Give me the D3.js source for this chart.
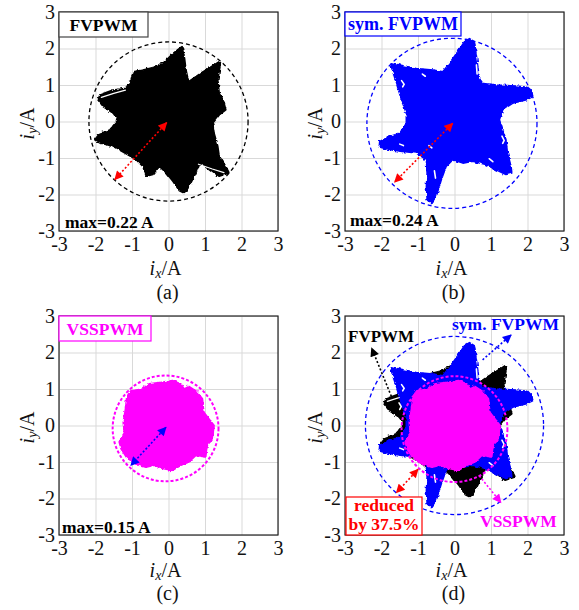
<!DOCTYPE html>
<html><head><meta charset="utf-8">
<script src="https://cdn.jsdelivr.net/npm/d3@7"></script>
<style>
body{margin:0;background:#fff;}
svg text{font-family:"Liberation Serif","Times New Roman",Tinos,"DejaVu Serif",serif !important;}
</style></head><body>
<svg id="fig" width="579" height="610"></svg>
<script>
// Axis ticks shared by all four panels
const ticks = [-3, -2, -1, 0, 1, 2, 3];

// Outline of the current trajectory envelope, FVPWM (i_x, i_y in A)
const fvpwmTrace = [
  [0.37,2.05],[0.44,1.73],[0.48,1.41],[0.55,1.09],[0.94,1.36],[1.25,1.55],[1.39,1.64],
  [1.41,1.50],[1.35,1.14],[1.39,0.77],[1.50,0.59],[1.57,0.32],[1.39,0.18],[1.21,-0.05],
  [1.25,-0.32],[1.35,-0.68],[1.39,-0.95],[1.57,-1.23],[1.66,-1.41],[1.39,-1.50],[1.03,-1.23],
  [0.85,-1.14],[0.75,-1.41],[0.57,-1.77],[0.44,-1.97],[0.30,-1.90],[0.12,-1.64],[-0.06,-1.41],
  [-0.25,-1.23],[-0.43,-1.45],[-0.61,-1.50],[-0.70,-1.23],[-0.88,-1.05],[-1.11,-0.91],
  [-1.52,-0.68],[-1.88,-0.59],[-2.02,-0.50],[-1.88,-0.32],[-1.61,-0.23],[-1.38,0.05],
  [-1.52,0.23],[-1.79,0.41],[-1.93,0.59],[-1.88,0.73],[-1.52,0.86],[-1.15,0.91],[-1.02,1.14],
  [-0.97,1.36],[-0.70,1.41],[-0.34,1.50],[-0.06,1.68],[0.12,1.86],[0.30,2.00]
];

// Uncovered gaps between the loops of the FVPWM trajectory
const fvpwmGaps = [
  [[-1.84,0.66],[-1.50,0.77],[-1.18,0.86]],
  [[0.82,-1.17],[1.20,-1.30],[1.52,-1.40]]
];

// Outline of the current trajectory envelope, symmetrical FVPWM
const symFvpwmTrace = [
  [0.41,2.27],[0.55,2.18],[0.59,1.86],[0.64,1.50],[0.68,1.18],[0.77,1.05],[1.14,1.00],
  [1.68,0.97],[2.00,0.94],[2.12,0.82],[2.14,0.68],[1.95,0.59],[1.59,0.50],[1.32,0.32],
  [1.23,0.05],[1.32,-0.23],[1.41,-0.50],[1.45,-0.86],[1.55,-1.23],[1.57,-1.41],[1.41,-1.45],
  [1.14,-1.32],[0.86,-1.18],[0.50,-1.09],[0.23,-1.14],[-0.05,-1.05],[-0.23,-1.23],[-0.36,-1.59],
  [-0.50,-2.05],[-0.64,-2.25],[-0.75,-2.14],[-0.77,-1.77],[-0.75,-1.41],[-0.77,-1.05],
  [-1.05,-0.86],[-1.41,-0.82],[-1.77,-0.77],[-2.06,-0.70],[-2.05,-0.55],[-1.77,-0.41],
  [-1.50,-0.32],[-1.32,-0.05],[-1.32,0.23],[-1.45,0.59],[-1.59,1.05],[-1.73,1.50],[-1.73,1.61],
  [-1.50,1.55],[-1.05,1.45],[-0.59,1.41],[-0.32,1.36],[-0.14,1.59],[0.09,1.91],[0.27,2.18]
];

// Uncovered gaps between the loops of the symmetrical FVPWM trajectory
const symFvpwmGaps = [
  [[-1.45,1.12],[-1.38,1.02],[-1.42,0.95]],
  [[-1.52,0.62],[-1.46,0.52],[-1.50,0.44]],
  [[-0.88,1.30],[-0.80,1.24]],
  [[0.60,1.55],[0.62,1.30]],
  [[1.30,-0.40],[1.36,-0.52],[1.32,-0.60]],
  [[-1.50,-0.62],[-1.40,-0.66]],
  [[-0.70,-0.66],[-0.62,-0.72]],
  [[0.95,-1.02],[1.05,-1.10]],
  [[-0.55,-1.35],[-0.52,-1.55]]
];

// Outline of the current trajectory envelope, VSSPWM
const vsspwmTrace = [
  [-1.12,0.82],[-1.03,0.95],[-0.71,1.00],[-0.53,1.14],[-0.25,1.18],[0.11,1.23],[0.34,1.14],
  [0.43,1.00],[0.56,1.07],[0.75,0.95],[0.93,0.73],[0.97,0.36],[1.11,0.18],[1.25,0.00],
  [1.20,-0.36],[1.06,-0.55],[1.02,-0.86],[0.75,-0.82],[0.56,-1.00],[0.34,-1.09],[0.11,-1.23],
  [-0.16,-1.18],[-0.39,-1.09],[-0.62,-1.14],[-0.80,-1.09],[-0.98,-1.00],[-1.16,-0.86],
  [-1.30,-0.64],[-1.35,-0.45],[-1.21,-0.23],[-1.24,0.09],[-1.18,0.45],[-1.15,0.73]
];

// Envelope circles: [centre x, centre y, radius] in A
const circleA = [0.00, 0.00, 2.18];
const circleB = [-0.07, -0.05, 2.33];
const circleC = [-0.08, -0.08, 1.45];
const circleDsym = [0.00, 0.00, 2.44];
const circleDvss = [0.00, -0.10, 1.45];

// Arrows: [[x1,y1],[x2,y2]] in A
const arrowA = [[-0.05,-0.03],[-1.47,-1.59]];
const arrowB = [[-0.05,-0.05],[-1.64,-1.66]];
const arrowC = [[-0.07,-0.05],[-1.03,-1.09]];
const arrowDfv = [[-1.73,0.80],[-2.27,2.12]];
const arrowDsym = [[0.77,1.80],[1.55,2.48]];
const arrowDvss = [[0.68,-1.38],[1.27,-2.11]];
const arrowDred = [[-1.00,-1.20],[-1.59,-1.84]];

const maxLabels = ["max=0.22 A", "max=0.24 A", "max=0.15 A"];
const captions = ["(a)", "(b)", "(c)", "(d)"];

const BLACK = "#000", BLUE = "#0000ff", MAG = "#ff00ff", RED = "#ff0000";
const SERIF = '"Liberation Serif","Times New Roman",Tinos,"DejaVu Serif",serif';
const W = 219, H = 219;

const svg = d3.select("#fig").attr("font-family", SERIF);
const defs = svg.append("defs");
function marker(id, color) {
  defs.append("marker").attr("id", id)
    .attr("viewBox", "0 0 10 10").attr("refX", 9).attr("refY", 5)
    .attr("markerUnits", "userSpaceOnUse")
    .attr("markerWidth", 10).attr("markerHeight", 9)
    .attr("orient", "auto-start-reverse")
    .append("path").attr("d", "M0,0L10,5L0,10Z").attr("fill", color);
}
marker("mk-black", BLACK); marker("mk-blue", BLUE); marker("mk-mag", MAG); marker("mk-red", RED);

// ragged edge for the dense trajectory bundles
const rough = defs.append("filter").attr("id", "rough")
  .attr("x", "-5%").attr("y", "-5%").attr("width", "110%").attr("height", "110%");
rough.append("feTurbulence").attr("type", "fractalNoise").attr("baseFrequency", 0.3)
  .attr("numOctaves", 2).attr("seed", 3).attr("result", "n");
rough.append("feDisplacementMap").attr("in", "SourceGraphic").attr("in2", "n")
  .attr("scale", 3.5).attr("xChannelSelector", "R").attr("yChannelSelector", "G");

function panel(ox, oy, yLabelBaseline, xLabelBaseline, caption, captionBaseline) {
  const g = svg.append("g").attr("transform", `translate(${ox},${oy})`);
  const x = d3.scaleLinear().domain([-3, 3]).range([0, W]);
  const y = d3.scaleLinear().domain([-3, 3]).range([H, 0]);
  // grid
  g.append("g").attr("transform", `translate(0,${H})`)
    .call(d3.axisBottom(x).tickValues(ticks).tickSize(-H).tickFormat(""))
    .call(s => s.select(".domain").remove())
    .call(s => s.selectAll("line").attr("stroke", "#d9d9d9").attr("stroke-width", 1));
  g.append("g")
    .call(d3.axisLeft(y).tickValues(ticks).tickSize(-W).tickFormat(""))
    .call(s => s.select(".domain").remove())
    .call(s => s.selectAll("line").attr("stroke", "#d9d9d9").attr("stroke-width", 1));
  const plot = g.append("g");
  // frame and tick labels
  g.append("rect").attr("width", W).attr("height", H).attr("fill", "none")
    .attr("stroke", "#222").attr("stroke-width", 1.2);
  const fmt = d => d < 0 ? "-" + (-d) : String(d);
  const xa = g.append("g").attr("transform", `translate(0,${H})`)
    .call(d3.axisBottom(x).tickValues(ticks).tickSize(0).tickPadding(6).tickFormat(fmt));
  xa.attr("font-family", SERIF).select(".domain").remove();
  xa.selectAll("text").attr("font-size", 20).attr("fill", "#111");
  const ya = g.append("g")
    .call(d3.axisLeft(y).tickValues(ticks).tickSize(0).tickPadding(4).tickFormat(fmt));
  ya.attr("font-family", SERIF).select(".domain").remove();
  ya.selectAll("text").attr("font-size", 20).attr("fill", "#111");
  // axis titles
  const xt = g.append("text").attr("x", W / 2 - 3).attr("y", xLabelBaseline).attr("text-anchor", "middle")
    .attr("font-size", 20).attr("fill", "#111");
  xt.append("tspan").attr("font-style", "italic").text("i");
  xt.append("tspan").attr("font-style", "italic").attr("font-size", 14).attr("dy", 3).text("x");
  xt.append("tspan").attr("dy", -3).text("/A");
  const yt = g.append("text").attr("transform", `translate(${yLabelBaseline},${H / 2 + 2}) rotate(-90)`)
    .attr("text-anchor", "middle").attr("font-size", 20).attr("fill", "#111");
  yt.append("tspan").attr("font-style", "italic").text("i");
  yt.append("tspan").attr("font-style", "italic").attr("font-size", 14).attr("dy", 3).text("y");
  yt.append("tspan").attr("dy", -3).text("/A");
  g.append("text").attr("x", W / 2 - 1).attr("y", captionBaseline).attr("text-anchor", "middle")
    .attr("font-size", 20).attr("fill", "#111").text(caption);
  return { g, plot, x, y };
}

function trace(p, pts, color) {
  const line = d3.line().x(d => p.x(d[0])).y(d => p.y(d[1])).curve(d3.curveLinearClosed);
  p.plot.append("path").attr("d", line(pts)).attr("fill", color)
    .attr("stroke", color).attr("stroke-width", 1.6).attr("stroke-linejoin", "round")
    .attr("filter", "url(#rough)");
}
function gaps(p, sets, w) {
  const line = d3.line().x(d => p.x(d[0])).y(d => p.y(d[1]));
  p.plot.selectAll(null).data(sets).join("path").attr("d", line)
    .attr("fill", "none").attr("stroke", "#fff").attr("stroke-width", w || 1.6).attr("stroke-linecap", "round");
}
function circle(p, c, color, dash, sw) {
  p.plot.append("ellipse").attr("cx", p.x(c[0])).attr("cy", p.y(c[1]))
    .attr("rx", p.x(c[2]) - p.x(0)).attr("ry", p.y(0) - p.y(c[2]))
    .attr("fill", "none").attr("stroke", color).attr("stroke-width", sw).attr("stroke-dasharray", dash);
}
function arrow(p, a, color, mk, both) {
  const l = p.plot.append("line")
    .attr("x1", p.x(a[0][0])).attr("y1", p.y(a[0][1]))
    .attr("x2", p.x(a[1][0])).attr("y2", p.y(a[1][1]))
    .attr("stroke", color).attr("stroke-width", 1.6).attr("stroke-dasharray", "2,2")
    .attr("marker-end", `url(#${mk})`);
  if (both) l.attr("marker-start", `url(#${mk})`);
}
function legendBox(p, w, h, label, color, size) {
  p.g.append("rect").attr("x", 0).attr("y", 0).attr("width", w).attr("height", h)
    .attr("fill", "#fff").attr("stroke", color === BLACK ? "#444" : color).attr("stroke-width", 1.2);
  p.g.append("text").attr("x", w / 2).attr("y", h / 2 + 6).attr("text-anchor", "middle")
    .attr("font-weight", "bold").attr("font-size", size).attr("fill", color).text(label);
}
function boldText(p, x, y, label, color, size, anchor) {
  p.g.append("text").attr("x", x).attr("y", y).attr("text-anchor", anchor || "start")
    .attr("font-weight", "bold").attr("font-size", size).attr("fill", color).text(label);
}

// (a) FVPWM
const pa = panel(59, 12, -25, H + 44, captions[0], 287);
trace(pa, fvpwmTrace, BLACK);
gaps(pa, fvpwmGaps, 1.2);
circle(pa, circleA, BLACK, "4,3", 1.3);
arrow(pa, arrowA, RED, "mk-red", true);
legendBox(pa, 89, 25, "FVPWM", BLACK, 17.5);
boldText(pa, 6, 216, maxLabels[0], BLACK, 17.5);

// (b) symmetrical FVPWM
const pb = panel(345, 12, -23, H + 44, captions[1], 287);
trace(pb, symFvpwmTrace, BLUE);
gaps(pb, symFvpwmGaps);
circle(pb, circleB, BLUE, "4,3", 1.3);
arrow(pb, arrowB, RED, "mk-red", true);
legendBox(pb, 116, 24, "sym. FVPWM", BLUE, 18);
boldText(pb, 5, 214, maxLabels[1], BLACK, 17.5);

// (c) VSSPWM
const pc = panel(59, 316, -25, H + 42, captions[2], 284);
trace(pc, vsspwmTrace, MAG);
circle(pc, circleC, MAG, "3,2", 2);
arrow(pc, arrowC, BLUE, "mk-blue", true);
legendBox(pc, 92, 25, "VSSPWM", MAG, 17.5);
boldText(pc, 3, 217, maxLabels[2], BLACK, 17.5);

// (d) comparison of all three
const pd = panel(345, 316, -23, H + 42, captions[3], 284);
trace(pd, fvpwmTrace, BLACK);
gaps(pd, fvpwmGaps, 1.2);
trace(pd, symFvpwmTrace, BLUE);
gaps(pd, symFvpwmGaps);
trace(pd, vsspwmTrace, MAG);
circle(pd, circleDsym, BLUE, "4,3", 1.3);
circle(pd, circleDvss, MAG, "3,2", 2);
arrow(pd, arrowDfv, BLACK, "mk-black", false);
arrow(pd, arrowDsym, BLUE, "mk-blue", false);
arrow(pd, arrowDvss, MAG, "mk-mag", false);
arrow(pd, arrowDred, RED, "mk-red", true);
boldText(pd, 3, 26, "FVPWM", BLACK, 17);
boldText(pd, 107, 14, "sym. FVPWM", BLUE, 17.5);
boldText(pd, 135, 211, "VSSPWM", MAG, 17.5);
pd.g.append("rect").attr("x", 1).attr("y", 181).attr("width", 76).attr("height", 38)
  .attr("fill", "#fff").attr("stroke", RED).attr("stroke-width", 1.2);
boldText(pd, 39, 195, "reduced", RED, 17.5, "middle");
boldText(pd, 39, 214, "by 37.5%", RED, 17.5, "middle");
</script>
</body></html>
